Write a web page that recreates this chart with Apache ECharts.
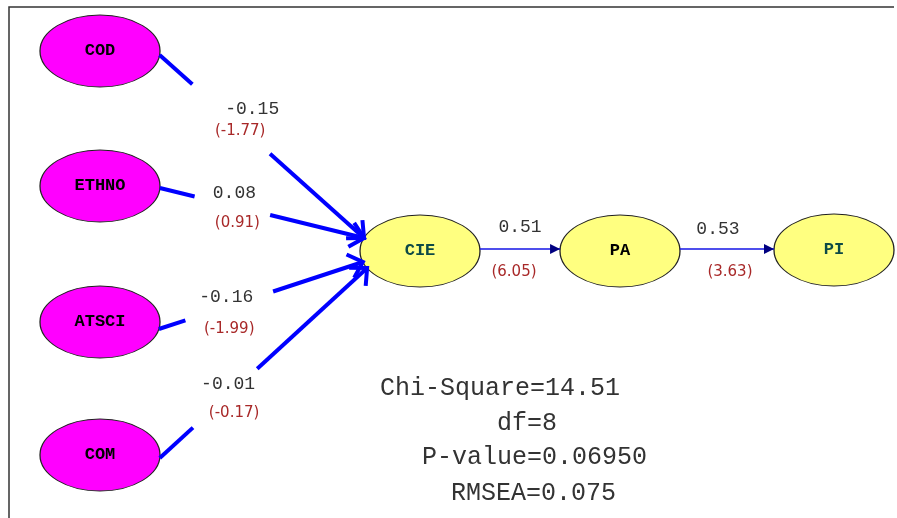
<!DOCTYPE html>
<html>
<head>
<meta charset="utf-8">
<script src="https://cdn.jsdelivr.net/npm/echarts@6/dist/echarts.min.js"></script>
<style>
  html, body { margin: 0; padding: 0; background: #fff; }
  #main { width: 897px; height: 518px; }
</style>
</head>
<body>
<div id="main"></div>
<script>
// variables of the path model
var nodeNames = ['COD', 'ETHNO', 'ATSCI', 'COM', 'CIE', 'PA', 'PI'];
var exogenous = ['COD', 'ETHNO', 'ATSCI', 'COM'];

// structural paths (from -> to), estimate and t-value
var pathFrom = ['COD', 'ETHNO', 'ATSCI', 'COM', 'CIE', 'PA'];
var pathTo = ['CIE', 'CIE', 'CIE', 'CIE', 'PA', 'PI'];
var estimates = ['-0.15', '0.08', '-0.16', '-0.01', '0.51', '0.53'];
var tValues = ['(-1.77)', '(0.91)', '(-1.99)', '(-0.17)', '(6.05)', '(3.63)'];

// goodness of fit
var fitNames = ['Chi-Square', 'df', 'P-value', 'RMSEA'];
var fitValues = ['14.51', '8', '0.06950', '0.075'];

// ---- layout of the diagram (pixel units) ----
var nodeXY = {
  COD: [100, 51], ETHNO: [100, 186], ATSCI: [100, 322], COM: [100, 455],
  CIE: [420, 251], PA: [620, 251], PI: [834, 250]
};
var RX = 60, RY = 36;
var srcDy = [4, 2, 7, 3, -2, -2];       // where the arrow leaves the source
var dstDy = [-13, -13, 11, 17, -2, -1]; // where it reaches the target
var gapT = [[0.16, 0.54], [0.17, 0.54], [0.13, 0.56], [0.16, 0.47], null, null];
var coefOff = [[21, -10], [2, -13], [-3, -9], [3, -14], [0, -22], [-9, -20]];
var tOff = [[9, 12], [5, 17], [0, 23], [9, 15], [-6, 23], [3, 23]];
var fitPos = [[380, 390], [497, 425], [422, 459], [451, 495]];

function rim(c, dy, side) {
  var k = Math.sqrt(Math.max(0, 1 - (dy / RY) * (dy / RY)));
  return [c[0] + side * RX * k, c[1] + dy];
}
function lerp(a, b, t) {
  return [a[0] + (b[0] - a[0]) * t, a[1] + (b[1] - a[1]) * t];
}

var chart = echarts.init(document.getElementById('main'));

var option = {
  animation: false,
  backgroundColor: '#fff',
  grid: { left: 0, right: 0, top: 0, bottom: 0 },
  xAxis: { type: 'value', min: 0, max: 897, show: false },
  yAxis: { type: 'value', min: 0, max: 518, inverse: true, show: false },
  graphic: [
    { type: 'polyline', silent: true, shape: { points: [[9, 518], [9, 7], [894, 7]] },
      style: { stroke: '#333', lineWidth: 1.5, fill: null } }
  ].concat(fitNames.map(function (n, i) {
    return {
      type: 'text', left: fitPos[i][0], top: fitPos[i][1] - 14, silent: true,
      style: { text: n + '=' + fitValues[i], fill: '#333',
        font: '25px "Liberation Mono", monospace' }
    };
  })),
  series: [
    {
      type: 'scatter',
      z: 2,
      silent: true,
      symbol: 'circle',
      symbolSize: [RX * 2, RY * 2],
      data: nodeNames.map(function (n) {
        var exo = exogenous.indexOf(n) >= 0;
        var teal = (n === 'CIE' || n === 'PI');
        return {
          name: n,
          value: nodeXY[n],
          itemStyle: { color: exo ? '#ff00ff' : '#ffff80', borderColor: '#222', borderWidth: 1, opacity: 1 },
          label: { color: teal ? '#0d4a46' : '#000' }
        };
      }),
      label: {
        show: true, position: 'inside', formatter: '{b}',
        fontFamily: 'Liberation Mono', fontWeight: 'bold', fontSize: 17
      }
    },
    {
      type: 'custom',
      z: 3,
      silent: true,
      data: pathFrom.map(function (f, i) { return [i]; }),
      renderItem: function (params, api) {
        var i = api.value(0);
        var p0 = api.coord(rim(nodeXY[pathFrom[i]], srcDy[i], 1));
        var p1 = api.coord(rim(nodeXY[pathTo[i]], dstDy[i], -1));
        var ang = Math.atan2(p1[1] - p0[1], p1[0] - p0[0]);
        var kids = [];
        var anchor;
        if (gapT[i]) {
          var g0 = lerp(p0, p1, gapT[i][0]), g1 = lerp(p0, p1, gapT[i][1]);
          var st = { stroke: '#0000ff', lineWidth: 4 };
          kids.push({ type: 'line', shape: { x1: p0[0], y1: p0[1], x2: g0[0], y2: g0[1] }, style: st });
          kids.push({ type: 'line', shape: { x1: g1[0], y1: g1[1], x2: p1[0], y2: p1[1] }, style: st });
          var L = 18, w = 0.75;
          kids.push({
            type: 'polyline',
            shape: { points: [
              [p1[0] - L * Math.cos(ang - w), p1[1] - L * Math.sin(ang - w)],
              p1,
              [p1[0] - L * Math.cos(ang + w), p1[1] - L * Math.sin(ang + w)]
            ] },
            style: { stroke: '#0000ff', lineWidth: 4, fill: null }
          });
          anchor = lerp(p0, p1, (gapT[i][0] + gapT[i][1]) / 2);
        } else {
          kids.push({ type: 'line', shape: { x1: p0[0], y1: p0[1], x2: p1[0], y2: p1[1] },
            style: { stroke: '#1414e6', lineWidth: 1.5 } });
          var h = 10, hw = 5;
          var bx = p1[0] - h * Math.cos(ang), by = p1[1] - h * Math.sin(ang);
          kids.push({
            type: 'polygon',
            shape: { points: [p1,
              [bx - hw * Math.sin(ang), by + hw * Math.cos(ang)],
              [bx + hw * Math.sin(ang), by - hw * Math.cos(ang)]] },
            style: { fill: '#000080' }
          });
          anchor = lerp(p0, p1, 0.5);
        }
        kids.push({
          type: 'text', x: anchor[0] + coefOff[i][0], y: anchor[1] + coefOff[i][1],
          style: { text: estimates[i], fill: '#333', font: '18px "Liberation Mono", monospace',
            textAlign: 'center', textVerticalAlign: 'middle' }
        });
        kids.push({
          type: 'text', x: anchor[0] + tOff[i][0], y: anchor[1] + tOff[i][1],
          style: { text: tValues[i], fill: '#a82828', font: '15px "DejaVu Sans", sans-serif',
            textAlign: 'center', textVerticalAlign: 'middle' }
        });
        return { type: 'group', children: kids };
      }
    }
  ]
};

chart.setOption(option);
</script>
</body>
</html>
